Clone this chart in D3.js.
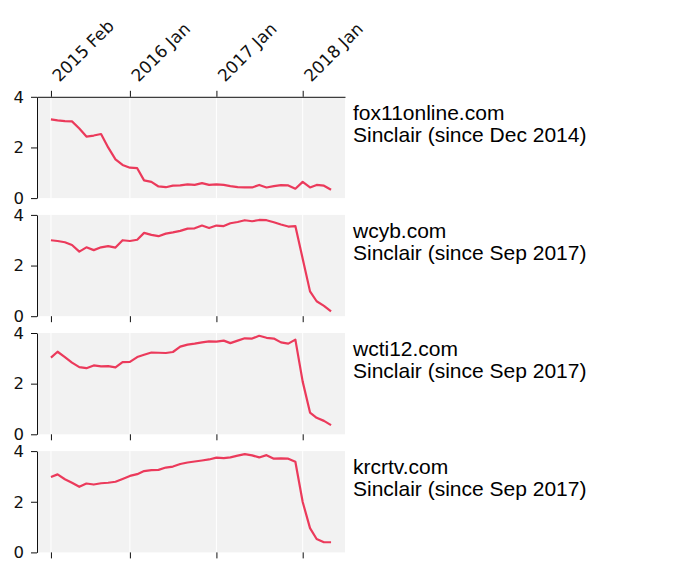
<!DOCTYPE html>
<html><head><meta charset="utf-8">
<script src="https://cdn.jsdelivr.net/npm/d3@7"></script>
<style>body{margin:0;background:#fff} svg{display:block}</style>
</head><body>
<svg id="chart" width="677" height="576"></svg>
<script>
const months = ["2015-02","2015-03","2015-04","2015-05","2015-06","2015-07","2015-08","2015-09","2015-10","2015-11","2015-12",
  "2016-01","2016-02","2016-03","2016-04","2016-05","2016-06","2016-07","2016-08","2016-09","2016-10","2016-11","2016-12",
  "2017-01","2017-02","2017-03","2017-04","2017-05","2017-06","2017-07","2017-08","2017-09","2017-10","2017-11","2017-12",
  "2018-01","2018-02","2018-03","2018-04","2018-05"];
const sites = ["fox11online.com", "wcyb.com", "wcti12.com", "krcrtv.com"];
const owners = ["Sinclair (since Dec 2014)", "Sinclair (since Sep 2017)", "Sinclair (since Sep 2017)", "Sinclair (since Sep 2017)"];
const fox11online = [3.11,3.07,3.04,3.03,2.75,2.43,2.47,2.53,2.00,1.53,1.31,1.20,1.18,0.70,0.64,0.46,0.43,0.49,0.50,0.54,
  0.52,0.59,0.52,0.54,0.52,0.47,0.43,0.42,0.42,0.52,0.42,0.47,0.51,0.50,0.37,0.64,0.42,0.52,0.49,0.33];
const wcyb = [3.00,2.97,2.92,2.81,2.55,2.72,2.61,2.72,2.77,2.71,3.00,2.97,3.02,3.29,3.21,3.16,3.26,3.31,3.37,3.46,
  3.47,3.58,3.48,3.58,3.56,3.67,3.72,3.79,3.75,3.80,3.79,3.71,3.62,3.54,3.56,2.27,0.98,0.59,0.41,0.19];
const wcti12 = [3.03,3.26,3.05,2.83,2.65,2.61,2.72,2.68,2.69,2.64,2.85,2.86,3.05,3.14,3.23,3.22,3.21,3.25,3.46,3.54,
  3.58,3.63,3.67,3.66,3.70,3.60,3.70,3.79,3.78,3.89,3.81,3.78,3.63,3.58,3.74,2.08,0.86,0.65,0.53,0.36];
const krcrtv = [2.98,3.08,2.89,2.75,2.59,2.72,2.68,2.73,2.75,2.79,2.90,3.02,3.09,3.21,3.25,3.26,3.35,3.39,3.49,3.55,
  3.59,3.63,3.67,3.74,3.72,3.75,3.82,3.88,3.83,3.75,3.84,3.70,3.71,3.70,3.58,1.99,0.96,0.53,0.40,0.40];
const seriesList = [fox11online, wcyb, wcti12, krcrtv];
const xTickDates = ["2015-02-01", "2016-01-01", "2017-01-01", "2018-01-01"];
const xTickLabels = ["2015 Feb", "2016 Jan", "2017 Jan", "2018 Jan"];
const yTicks = [0, 2, 4];
const xDomain = ["2014-12-04", "2018-06-29"];
</script>
<script>
const svg = d3.select("#chart");
const parseM = d3.utcParse("%Y-%m");
const parseD = d3.utcParse("%Y-%m-%d");
const dates = months.map(parseM);
const left = 37, right = 345;
const x = d3.scaleUtc().domain(xDomain.map(parseD)).range([left, right]);
const tickDates = xTickDates.map(parseD);
const panelH = 101.3, step = 118.1, top0 = 96.8;
const lineColor = "#eb3a5b";
const tickFont = "DejaVu Sans, sans-serif";

seriesList.forEach((vals, i) => {
  const top = top0 + i * step;
  const g = svg.append("g");
  const y = d3.scaleLinear().domain([0, 4]).range([top + panelH, top]);
  g.append("rect").attr("x", left).attr("y", top).attr("width", right - left).attr("height", panelH).attr("fill", "#f2f2f2");
  g.selectAll("line.grid").data(tickDates).join("line").attr("class", "grid")
    .attr("x1", d => x(d)).attr("x2", d => x(d)).attr("y1", top).attr("y2", top + panelH)
    .attr("stroke", "#fff").attr("stroke-width", 1);
  const yAxis = d3.axisLeft(y).tickValues(yTicks).tickFormat(d3.format("d")).tickSize(6).tickSizeOuter(0).tickPadding(7);
  const ya = g.append("g").attr("transform", `translate(${left},0)`).call(yAxis);
  ya.selectAll("text").attr("font-family", tickFont).attr("font-size", 16.5).attr("fill", "#111");
  ya.selectAll("line, path").attr("stroke", "#111");
  if (i === 0) {
    const xa = d3.axisTop(x).tickValues(tickDates).tickFormat((d, k) => xTickLabels[k]).tickSize(6).tickSizeOuter(0);
    const ga = g.append("g").attr("transform", `translate(0,${top})`).call(xa);
    ga.selectAll("line, path").attr("stroke", "#111");
    ga.selectAll("text").attr("font-family", tickFont).attr("font-size", 17).attr("fill", "#111")
      .attr("text-anchor", "start").attr("dy", null).attr("y", null)
      .attr("transform", "translate(8,-14) rotate(-45)");
  } else {
    const xa = d3.axisBottom(x).tickValues(tickDates).tickFormat("").tickSize(6).tickSizeOuter(0);
    const ga = g.append("g").attr("transform", `translate(0,${top + panelH})`).call(xa);
    ga.select(".domain").remove();
    ga.selectAll("line").attr("stroke", "#111");
  }
  const line = d3.line().x((d, k) => x(dates[k])).y(d => y(d));
  g.append("path").datum(vals).attr("d", line).attr("fill", "none").attr("stroke", lineColor)
    .attr("stroke-width", 2.2).attr("stroke-linejoin", "round");
  const tf = "Liberation Sans, Arial, sans-serif";
  g.append("text").attr("font-family", tf).attr("font-size", 21).attr("fill", "#000")
    .attr("x", 353).attr("y", top + 23).text(sites[i]);
  g.append("text").attr("font-family", tf).attr("font-size", 21).attr("fill", "#000")
    .attr("x", 353).attr("y", top + 45).text(owners[i]);
});
</script>
</body></html>
